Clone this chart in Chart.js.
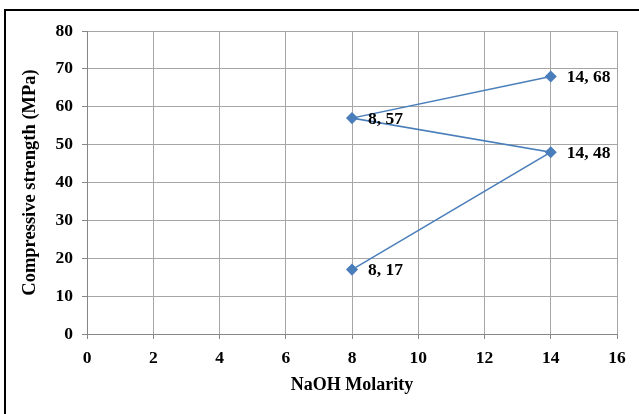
<!DOCTYPE html>
<html>
<head>
<meta charset="utf-8">
<script src="https://cdn.jsdelivr.net/npm/chart.js@4.4.0/dist/chart.umd.min.js"></script>
<style>
  html, body { margin: 0; padding: 0; background: #fff; }
  #wrap { position: relative; width: 639px; height: 414px; overflow: hidden; }
  #frame { position: absolute; left: 4px; top: 9px; width: 700px; height: 500px;
           border-left: 2px solid #000; border-top: 2px solid #000; }
  canvas { position: absolute; left: 0; top: 0; }
</style>
</head>
<body>
<div id="wrap">
  <div id="frame"></div>
  <canvas id="chart" width="639" height="414"></canvas>
</div>
<script>
// series, in drawing order
const molarity = [8, 14, 8, 14]
const strength = [17, 48, 57, 68]
const xTicks = [0, 2, 4, 6, 8, 10, 12, 14, 16]
const yTicks = [0, 10, 20, 30, 40, 50, 60, 70, 80]

const FONT = "'Liberation Serif', 'Times New Roman', serif"
const BLUE = '#4a7ebb'

// writes "x, y" to the right of every point
const pointLabels = {
    id: 'pointLabels',
    afterDatasetsDraw(chart){
        const ctx = chart.ctx
        const meta = chart.getDatasetMeta(0)
        ctx.save()
        ctx.font = 'bold 17.5px ' + FONT
        ctx.fillStyle = '#000'
        ctx.textBaseline = 'middle'
        meta.data.forEach((pt, i)=>{
            ctx.fillText(molarity[i] + ', ' + strength[i], pt.x + 16, pt.y + 1)
        })
        ctx.restore()
    }
}

new Chart(document.getElementById('chart'), {
    type: 'scatter',
    data: {
        datasets: [{
            data: molarity.map((x, i)=>({x: x, y: strength[i]})),
            showLine: true,
            borderColor: BLUE,
            backgroundColor: BLUE,
            borderWidth: 1.5,
            pointStyle: 'rectRot',
            pointRadius: 5,
            pointHoverRadius: 5,
        }]
    },
    options: {
        responsive: false,
        animation: false,
        events: [],
        layout: { padding: { left: 0, top: 31, right: 22, bottom: 0 } },
        plugins: { legend: { display: false }, tooltip: { enabled: false } },
        scales: {
            x: {
                type: 'linear',
                min: 0, max: 16,
                afterBuildTicks: (s)=>{ s.ticks = xTicks.map(v=>({value: v})) },
                afterFit: (s)=>{ s.height = 80 },
                grid: { color: '#a6a6a6', tickLength: 5, tickColor: '#868686' },
                border: { color: '#868686' },
                ticks: { color: '#000', padding: 9, font: { family: FONT, size: 17.5, weight: 'bold' } },
                title: { display: true, text: 'NaOH Molarity', color: '#000',
                         padding: { top: 0, bottom: 18 }, font: { family: FONT, size: 18, weight: 'bold' } }
            },
            y: {
                min: 0, max: 80,
                afterBuildTicks: (s)=>{ s.ticks = yTicks.map(v=>({value: v})) },
                afterFit: (s)=>{ s.width = 87 },
                grid: { color: '#a6a6a6', tickLength: 5, tickColor: '#868686' },
                border: { color: '#868686' },
                ticks: { color: '#000', padding: 9, font: { family: FONT, size: 17.5, weight: 'bold' } },
                title: { display: true, text: 'Compressive strength (MPa)', color: '#000',
                         padding: { top: 19.5 }, font: { family: FONT, size: 18.5, weight: 'bold' } }
            }
        }
    },
    plugins: [pointLabels]
})
</script>
</body>
</html>
